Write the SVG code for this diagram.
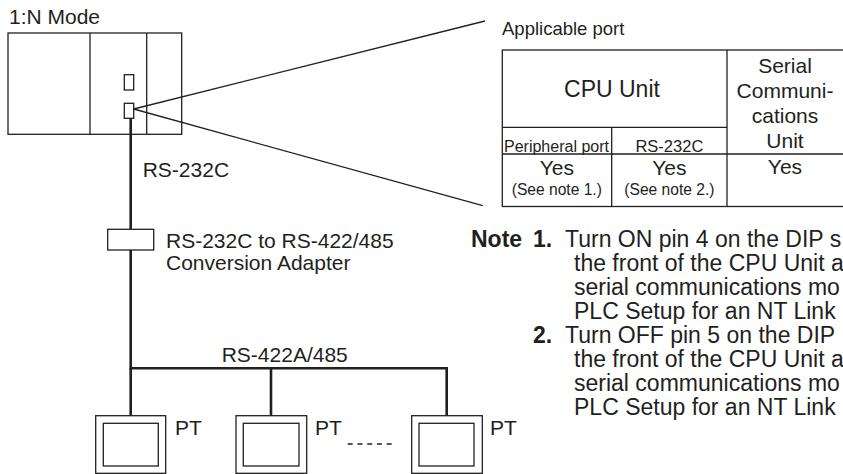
<svg xmlns="http://www.w3.org/2000/svg" width="843" height="474" viewBox="0 0 843 474">
<style>
text{font-family:"Liberation Sans",Arial,sans-serif;fill:#231f20}
.t{font-size:21px}
.n{font-size:23px}
.b{font-weight:bold}
.c{text-anchor:middle}
.thin{fill:none;stroke:#231f20;stroke-width:1.3}
.box{fill:#fff;stroke:#231f20;stroke-width:1.3}
.cable{fill:none;stroke:#231f20;stroke-width:2.6}
</style>
<rect width="843" height="474" fill="#fff"/>
<text class="t" x="9" y="24">1:N Mode</text>
<g id="plc">
<rect class="box" x="8" y="33" width="173.7" height="101.3"/>
<line class="thin" x1="90" y1="33" x2="90" y2="134.3"/>
<line class="thin" x1="146.7" y1="33" x2="146.7" y2="134.3"/>
<rect class="box" x="124.3" y="74.7" width="9.4" height="15.3"/>
<rect class="box" x="124.3" y="103.3" width="9.4" height="15"/>
</g>
<g id="connectors">
<line class="thin" x1="133.7" y1="109" x2="485" y2="21"/>
<line class="thin" x1="133.7" y1="109" x2="482.7" y2="205.7"/>
<line class="cable" x1="130.7" y1="118.3" x2="130.7" y2="229.3"/>
<polyline class="cable" points="130.7,250 130.7,368.3 446.7,368.3 446.7,415.7"/>
<line class="cable" x1="130.7" y1="368.3" x2="130.7" y2="415.7"/>
<line class="cable" x1="271" y1="368.3" x2="271" y2="415.7"/>
<line class="thin" x1="347.7" y1="444" x2="391.7" y2="444" stroke-dasharray="5,4.75"/>
</g>
<text class="t" x="142.7" y="176.7">RS-232C</text>
<g id="adapter">
<rect class="box" x="107.7" y="229.3" width="46" height="20.7"/>
<text class="t" x="166" y="248.3">RS-232C to RS-422/485</text>
<text class="t" x="166" y="270">Conversion Adapter</text>
</g>
<text class="t" x="221.7" y="361.7">RS-422A/485</text>
<g id="pt1">
<rect class="box" x="95.7" y="415.7" width="70" height="57.6"/>
<rect class="box" x="103.3" y="423.3" width="55" height="42.7"/>
<text class="t" x="175" y="435">PT</text>
</g>
<g id="pt2">
<rect class="box" x="236" y="415.7" width="70.7" height="57.6"/>
<rect class="box" x="243.3" y="423.3" width="55.7" height="42.7"/>
<text class="t" x="315" y="435">PT</text>
</g>
<g id="pt3">
<rect class="box" x="411.7" y="415.7" width="70.6" height="57.6"/>
<rect class="box" x="419" y="423.3" width="55" height="42.7"/>
<text class="t" x="490" y="435">PT</text>
</g>
<text style="font-size:18.5px" x="502" y="35">Applicable port</text>
<g id="table">
<rect class="box" x="502.3" y="50" width="345" height="156.5"/>
<line class="thin" x1="502.3" y1="127.3" x2="727" y2="127.3"/>
<line class="thin" x1="502.3" y1="154" x2="845" y2="154"/>
<line class="thin" x1="727" y1="50" x2="727" y2="206.5"/>
<line class="thin" x1="611.7" y1="127.3" x2="611.7" y2="206.5"/>
<text class="c" style="font-size:23px" x="612" y="97">CPU Unit</text>
<text class="c" style="font-size:21px" x="785" y="73">Serial</text>
<text class="c" style="font-size:21px" x="785" y="98">Communi-</text>
<text class="c" style="font-size:21px" x="785" y="123">cations</text>
<text class="c" style="font-size:21px" x="785" y="148">Unit</text>
<text class="c" style="font-size:16px" x="556.5" y="151.7">Peripheral port</text>
<text class="c" style="font-size:16.5px" x="669.4" y="151.7">RS-232C</text>
<text class="c" style="font-size:21px" x="556.8" y="175">Yes</text>
<text class="c" style="font-size:21px" x="669.4" y="175">Yes</text>
<text class="c" style="font-size:21px" x="785" y="173.5">Yes</text>
<text class="c" style="font-size:15.6px" x="556.8" y="195">(See note 1.)</text>
<text class="c" style="font-size:15.6px" x="669.4" y="195">(See note 2.)</text>
</g>
<g id="notes" class="n">
<text class="n b" x="471" y="247.3">Note</text>
<text class="n b" x="533" y="247.3">1.</text>
<text class="n" x="565" y="247.3">Turn ON pin 4 on the DIP s</text>
<text class="n" x="574" y="271.2">the front of the CPU Unit a</text>
<text class="n" x="574" y="295.1">serial communications mo</text>
<text class="n" x="574" y="319">PLC Setup for an NT Link</text>
<text class="n b" x="533" y="342.9">2.</text>
<text class="n" x="565" y="342.9">Turn OFF pin 5 on the DIP</text>
<text class="n" x="574" y="366.8">the front of the CPU Unit a</text>
<text class="n" x="574" y="390.7">serial communications mo</text>
<text class="n" x="574" y="414.6">PLC Setup for an NT Link</text>
</g>
</svg>
